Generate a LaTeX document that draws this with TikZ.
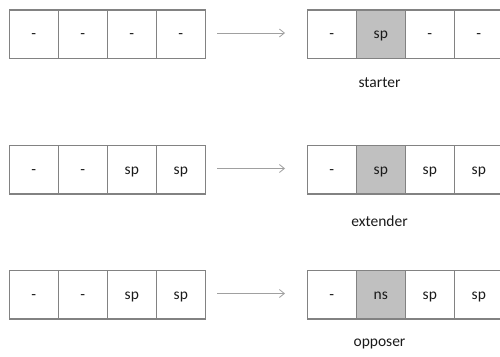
\documentclass[tikz,border=0pt]{standalone}
\usepackage{fontspec}
\setmainfont{Carlito}
\usetikzlibrary{arrows.meta}
\definecolor{cellgray}{HTML}{828282}
\definecolor{fillgray}{HTML}{C0C0C0}
\definecolor{arrowgray}{HTML}{A0A0A0}
\definecolor{txt}{HTML}{1A1A1A}
\begin{document}
\begin{tikzpicture}[x=1pt,y=-1pt,
  cellbox/.style={draw=cellgray, line width=1.6pt, minimum width=49pt, minimum height=48.5pt,
    inner sep=0pt, anchor=north west, text=txt, text height=9pt, text depth=0pt,
    font=\fontsize{15.5}{17}\selectfont},
  hicell/.style={cellbox, fill=fillgray},
  caption/.style={anchor=base, text=txt, inner sep=0pt, font=\fontsize{15.5}{18}\selectfont},
  flow/.style={draw=arrowgray, line width=0.8pt, -{Straight Barb[length=5pt,width=8pt]}}]
\useasboundingbox (0,0) rectangle (500,356);
\clip (0,0) rectangle (500,356);
% row 1
\node[cellbox] (a1) at (8.5,9) {-};
\node[cellbox] (a2) at (57.5,9) {-};
\node[cellbox] (a3) at (106.5,9) {-};
\node[cellbox] (a4) at (155.5,9) {-};
\node[cellbox] (b1) at (306.5,9) {-};
\node[hicell] (b2) at (355.5,9) {sp};
\node[cellbox] (b3) at (404.5,9) {-};
\node[cellbox] (b4) at (453.5,9) {-};
\coordinate (s1) at (217,33);
\coordinate (e1) at (285,33);
\draw[flow] (s1) -- (e1);
\node[caption] (l1) at (379.5,87.5) {starter};
% row 2
\node[cellbox] (c1) at (8.5,144.5) {-};
\node[cellbox] (c2) at (57.5,144.5) {-};
\node[cellbox] (c3) at (106.5,144.5) {sp};
\node[cellbox] (c4) at (155.5,144.5) {sp};
\node[cellbox] (d1) at (306.5,144.5) {-};
\node[hicell] (d2) at (355.5,144.5) {sp};
\node[cellbox] (d3) at (404.5,144.5) {sp};
\node[cellbox] (d4) at (453.5,144.5) {sp};
\coordinate (s2) at (217,168.5);
\coordinate (e2) at (285,168.5);
\draw[flow] (s2) -- (e2);
\node[caption] (l2) at (379.5,226) {extender};
% row 3
\node[cellbox] (f1) at (8.5,269.5) {-};
\node[cellbox] (f2) at (57.5,269.5) {-};
\node[cellbox] (f3) at (106.5,269.5) {sp};
\node[cellbox] (f4) at (155.5,269.5) {sp};
\node[cellbox] (g1) at (306.5,269.5) {-};
\node[hicell] (g2) at (355.5,269.5) {ns};
\node[cellbox] (g3) at (404.5,269.5) {sp};
\node[cellbox] (g4) at (453.5,269.5) {sp};
\coordinate (s3) at (217,293.5);
\coordinate (e3) at (285,293.5);
\draw[flow] (s3) -- (e3);
\node[caption] (l3) at (379.5,346) {opposer};
\end{tikzpicture}
\end{document}
